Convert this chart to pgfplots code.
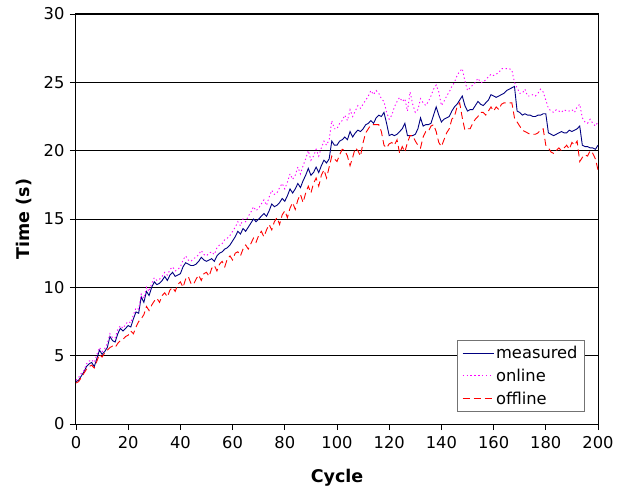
\documentclass[border=0pt]{standalone}
\usepackage{fontspec}
\setmainfont{DejaVu Sans}
\usepackage{pgfplots}
\usepackage{pgfplotstable}
\pgfplotsset{compat=1.18}

\definecolor{measuredcol}{RGB}{0,0,128}
\definecolor{onlinecol}{RGB}{255,0,255}
\definecolor{offlinecol}{RGB}{255,0,0}

% cycle, measured time, online estimate, offline estimate (s)
\pgfplotstableread{
c m on off
0 3.1 3.2 3.0
1 3.2 3.4 3.1
2 3.5 3.7 3.4
3 3.8 3.9 3.7
4 4.2 4.4 4.0
5 4.4 4.6 4.2
6 4.5 4.7 4.3
7 4.2 4.5 4.1
8 4.8 5.1 4.6
9 5.4 5.6 5.1
10 5.1 5.3 4.9
11 5.3 5.5 5.2
12 5.6 5.9 5.4
13 6.4 6.6 5.6
14 6.1 6.3 5.7
15 6.0 6.3 5.6
16 6.6 6.9 5.9
17 7.0 7.2 6.1
18 6.8 7.0 6.2
19 7.0 7.3 6.4
20 7.2 7.5 6.5
21 7.1 7.4 6.8
22 7.7 8.0 6.6
23 8.2 8.5 7.1
24 8.1 8.4 7.5
25 9.3 9.5 7.7
26 8.9 9.2 8.0
27 9.7 10.0 8.6
28 9.4 9.7 8.3
29 10.0 10.3 8.7
30 10.4 10.7 9.0
31 10.2 10.5 9.2
32 10.3 10.6 8.9
33 10.5 10.8 9.4
34 10.8 11.1 9.6
35 10.5 10.9 9.3
36 10.9 11.3 9.8
37 11.1 11.5 10.0
38 10.8 11.2 9.7
39 10.9 11.3 10.2
40 11.0 11.5 10.4
41 11.5 12.0 10.0
42 11.8 12.3 10.6
43 11.7 12.0 10.8
44 11.6 11.9 10.3
45 11.6 12.1 10.2
46 11.7 12.2 10.6
47 11.9 12.4 10.9
48 12.2 12.7 10.5
49 12.0 12.4 11.0
50 11.9 12.3 11.1
51 12.0 12.5 10.8
52 12.1 12.6 11.4
53 11.9 12.4 11.6
54 12.3 12.9 11.2
55 12.5 13.1 11.7
56 12.6 13.2 11.9
57 12.8 13.5 11.5
58 12.9 13.6 12.1
59 13.1 13.8 12.3
60 13.4 14.1 12.0
61 13.7 14.4 12.5
62 14.1 14.8 12.6
63 13.9 14.5 12.3
64 14.3 15.0 12.8
65 14.1 14.8 13.1
66 14.4 15.2 12.8
67 14.7 15.5 13.2
68 15.0 15.9 13.6
69 14.8 15.6 13.3
70 15.0 15.8 13.8
71 15.2 16.1 14.1
72 15.4 16.4 13.7
73 15.2 16.0 14.2
74 15.6 16.6 14.6
75 16.1 17.1 14.2
76 15.9 16.8 14.8
77 16.0 16.9 15.1
78 16.2 17.3 14.6
79 16.5 17.6 15.3
80 16.3 17.2 15.6
81 16.7 17.7 15.1
82 17.2 18.3 15.8
83 16.9 17.9 16.2
84 17.2 18.2 15.7
85 17.6 18.8 16.4
86 17.3 18.3 16.8
87 17.8 18.9 16.2
88 18.2 19.4 16.9
89 18.7 20.0 17.4
90 18.2 19.3 16.9
91 18.4 19.6 17.6
92 18.8 20.1 18.0
93 18.4 19.6 17.4
94 18.9 20.2 18.2
95 19.3 20.7 18.6
96 19.1 20.4 18.0
97 19.4 20.8 18.8
98 20.7 22.2 19.6
99 20.4 21.6 19.4
100 20.4 21.6 19.2
101 20.7 22.0 19.7
102 20.8 22.2 20.1
103 21.0 22.6 20.0
104 20.8 22.2 19.6
105 21.4 23.0 18.9
106 21.0 22.5 19.5
107 21.3 22.9 20.2
108 21.5 23.3 20.0
109 21.4 23.1 19.6
110 21.6 23.4 20.6
111 21.9 23.7 21.3
112 22.0 24.0 21.6
113 22.2 24.4 21.9
114 22.0 24.1 21.9
115 22.4 24.4 21.9
116 22.6 24.2 21.9
117 22.5 23.8 21.4
118 22.8 23.6 20.4
119 22.0 22.8 20.2
120 21.1 22.3 20.5
121 21.2 22.6 20.6
122 21.1 23.2 20.4
123 21.2 23.6 20.8
124 21.4 23.9 19.8
125 21.6 23.6 20.3
126 22.0 23.8 19.9
127 21.1 22.9 20.6
128 21.1 24.3 21.1
129 21.1 23.4 21.1
130 21.2 22.8 20.7
131 21.6 23.0 20.4
132 22.4 23.8 20.2
133 21.8 23.5 21.0
134 21.9 23.3 21.4
135 21.9 23.6 21.4
136 22.0 24.0 21.8
137 22.6 24.5 21.9
138 23.2 24.8 21.4
139 22.6 24.3 20.6
140 22.1 23.3 20.3
141 22.3 23.6 20.8
142 22.4 24.0 21.3
143 22.5 24.3 21.6
144 22.9 24.7 22.3
145 23.2 25.0 22.5
146 23.4 25.5 23.2
147 23.7 25.8 23.5
148 24.0 26.0 22.4
149 23.3 25.1 21.5
150 22.9 24.4 21.6
151 23.0 24.6 21.6
152 23.0 24.8 22.0
153 23.3 25.0 22.3
154 23.6 25.3 22.5
155 23.4 25.0 22.8
156 23.3 25.0 22.8
157 23.5 25.2 22.6
158 23.7 25.4 22.9
159 24.1 25.6 23.2
160 24.0 25.5 22.9
161 23.9 25.6 23.2
162 24.0 25.7 23.0
163 24.1 26.0 23.4
164 24.2 26.0 23.5
165 24.4 26.0 23.5
166 24.5 26.0 23.5
167 24.6 25.9 23.5
168 24.7 25.0 22.4
169 22.9 24.6 22.1
170 22.8 24.2 21.8
171 22.6 24.2 21.5
172 22.7 24.5 21.4
173 22.6 24.0 21.3
174 22.6 24.0 21.2
175 22.5 24.1 21.2
176 22.5 24.0 21.2
177 22.6 24.2 21.3
178 22.6 24.5 21.5
179 22.7 24.3 21.6
180 22.7 23.7 20.4
181 21.3 23.1 20.2
182 21.2 22.9 19.9
183 21.1 22.8 19.8
184 21.2 23.0 20.0
185 21.3 22.9 20.2
186 21.4 22.8 20.0
187 21.3 23.0 20.2
188 21.3 22.9 20.4
189 21.5 22.9 20.1
190 21.4 23.0 20.6
191 21.5 22.8 20.4
192 21.6 23.2 20.7
193 21.8 23.4 19.2
194 20.4 22.4 19.5
195 20.3 22.1 19.7
196 20.3 22.0 19.6
197 20.2 22.3 20.0
198 20.2 22.0 19.8
199 20.1 21.8 19.4
200 20.4 22.1 18.6
}\timedata

\begin{document}
\begin{tikzpicture}
\begin{axis}[
  name=ax,
  scale only axis,
  width=522pt, height=410pt,
  xmin=0, xmax=200, ymin=0, ymax=30,
  xtick={0,20,...,200},
  ytick={0,5,...,30},
  tick pos=left,
  tick align=outside,
  major tick length=6pt,
  tick style={black, line width=0.8pt},
  axis line style={black, line width=1pt},
  ymajorgrids,
  grid style={black, line width=0.8pt},
  /pgf/number format/assume math mode=true,
  ticklabel style={font=\fontsize{16.3}{19}\selectfont},
  xticklabel style={yshift=-3pt},
  yticklabel style={xshift=-2pt},
  xlabel={Cycle},
  ylabel={Time (s)},
  every axis x label/.style={at={(axis description cs:0.5,-0.132)}, anchor=center,
    font=\fontsize{17.5}{21}\selectfont\bfseries},
  every axis y label/.style={at={(axis description cs:-0.0996,0.5)}, anchor=center, rotate=90,
    font=\fontsize{17.5}{21}\selectfont\bfseries},
  legend style={
    at={(0.975,0.029)}, anchor=south east,
    draw=black!55, line width=0.8pt, fill=white,
    font=\fontsize{16.3}{19}\selectfont,
    row sep=5pt, inner xsep=5pt, inner ysep=4pt,
  },
  legend cell align=left,
  legend image code/.code={\draw[#1] (0pt,0pt) -- (31pt,0pt);},
]
\addplot[measuredcol, line width=0.9pt] table[x=c, y=m] {\timedata};
\addlegendentry{measured}
\addplot[onlinecol, line width=0.9pt, dash pattern=on 1.3pt off 2.6pt] table[x=c, y=on] {\timedata};
\addlegendentry{online}
\addplot[offlinecol, line width=0.9pt, dash pattern=on 7pt off 4pt] table[x=c, y=off] {\timedata};
\addlegendentry{offline}
\end{axis}
% white margin round the chart
\path ([xshift=-76pt,yshift=-71pt]ax.south west) rectangle ([xshift=31pt,yshift=14pt]ax.north east);
\end{tikzpicture}
\end{document}
